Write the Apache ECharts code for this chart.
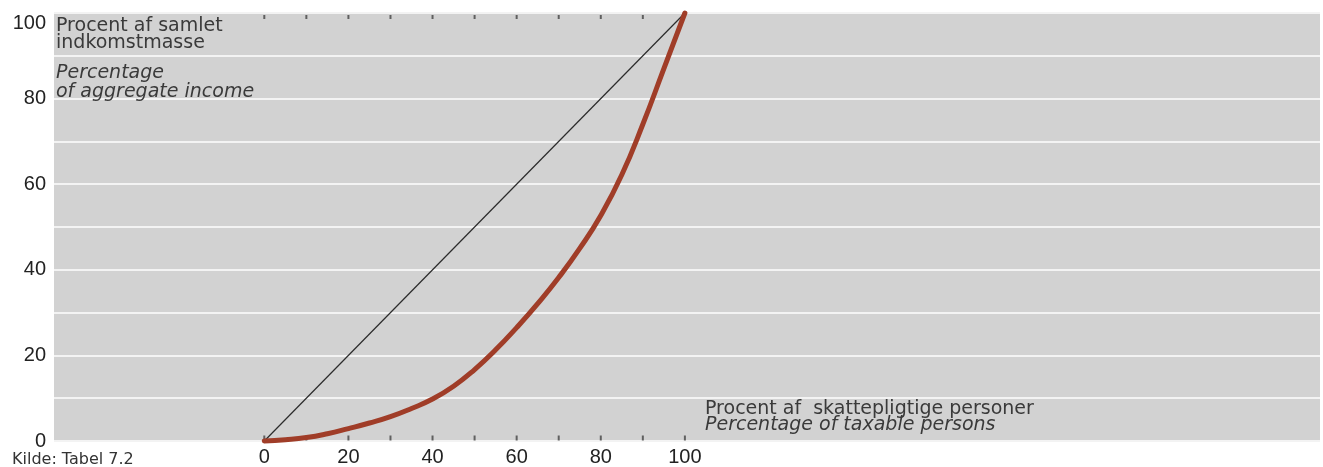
<!DOCTYPE html>
<html>
<head>
<meta charset="utf-8">
<script src="https://cdn.jsdelivr.net/npm/echarts@6/dist/echarts.min.js"></script>
<style>
  html, body { margin: 0; padding: 0; background: #fff; }
  #main { width: 1323px; height: 467px; }
</style>
</head>
<body>
<div id="main"></div>
<script>
// andel af skattepligtige personer (x) og andel af indkomstmassen (y), procent
var personPct = [0, 5, 10, 15, 20, 25, 30, 35, 40, 45, 50, 55, 60, 65, 70, 75, 80, 85, 90, 95, 100];
var incomePct = [0, 0.3, 0.8, 1.7, 2.9, 4.2, 5.7, 7.6, 9.8, 12.8, 16.7, 21.3, 26.5, 32.1, 38.2, 45.0, 52.7, 62.2, 74.0, 87.0, 100];
var equalLine = [[0, 0], [100, 100]];
var tickPos = [0, 10, 20, 30, 40, 50, 60, 70, 80, 90, 100];
var xLabels = [0, 20, 40, 60, 80, 100];
var yLabels = [0, 20, 40, 60, 80, 100];

var numFont = '"Liberation Sans", Arial, sans-serif';
var textFont = '"DejaVu Sans", sans-serif';

var lorenz = personPct.map(function (p, i) { return [p, incomePct[i]]; });
var ticksBottom = tickPos.map(function (p) { return [p, 0]; });
var ticksTop = tickPos.slice(0, 10).map(function (p) { return [p, 100]; });

var chart = echarts.init(document.getElementById('main'));
var option = {
    animation: false,
    backgroundColor: '#fff',
    grid: {
        left: 54, right: 0, top: 13, bottom: 25,
        show: true, backgroundColor: '#d2d2d2', borderWidth: 0
    },
    xAxis: {
        type: 'value', min: -50, max: 251, interval: 10,
        axisLine: { show: false }, axisTick: { show: false }, splitLine: { show: false },
        axisLabel: {
            margin: 6, fontSize: 20, color: '#222', fontFamily: numFont,
            formatter: function (v) { return xLabels.indexOf(v) >= 0 ? String(v) : ''; }
        }
    },
    yAxis: {
        type: 'value', min: 0, max: 100, interval: 10,
        axisLine: { show: false }, axisTick: { show: false },
        splitLine: { show: true, lineStyle: { color: '#f3f3f3', width: 2 } },
        axisLabel: {
            margin: 8, fontSize: 20, color: '#222', fontFamily: numFont,
            verticalAlignMaxLabel: 'top',
            formatter: function (v) { return yLabels.indexOf(v) >= 0 ? String(v) : ''; }
        }
    },
    series: [
        {
            type: 'line', data: equalLine, symbol: 'none', clip: false,
            lineStyle: { color: '#2b2b2b', width: 1.2 }
        },
        {
            type: 'line', data: lorenz, symbol: 'none', smooth: 0.5, clip: false,
            lineStyle: { color: '#a03d28', width: 5, cap: 'round' }
        },
        {
            type: 'scatter', data: ticksBottom, symbol: 'rect', symbolSize: [2, 5],
            symbolOffset: [0, -3], itemStyle: { color: '#444' }, silent: true
        },
        {
            type: 'scatter', data: ticksTop, symbol: 'rect', symbolSize: [2, 4],
            symbolOffset: [0, 4], itemStyle: { color: '#444' }, silent: true
        }
    ],
    graphic: [
        { type: 'text', z: 100, left: 56, top: 17, style: { text: 'Procent af samlet\nindkomstmasse', font: '19px ' + textFont, fill: '#3a3a3a', lineHeight: 17 } },
        { type: 'text', z: 100, left: 56, top: 64, style: { text: 'Percentage\nof aggregate income', font: 'italic 19px ' + textFont, fill: '#3a3a3a', lineHeight: 19 } },
        { type: 'text', z: 100, left: 705, top: 400, style: { text: 'Procent af  skattepligtige personer', font: '19px ' + textFont, fill: '#3a3a3a' } },
        { type: 'text', z: 100, left: 705, top: 416, style: { text: 'Percentage of taxable persons', font: 'italic 19px ' + textFont, fill: '#3a3a3a' } },
        { type: 'text', z: 100, left: 12, top: 452, style: { text: 'Kilde: Tabel 7.2', font: '16px ' + textFont, fill: '#333' } }
    ]
};
chart.setOption(option);
</script>
</body>
</html>
